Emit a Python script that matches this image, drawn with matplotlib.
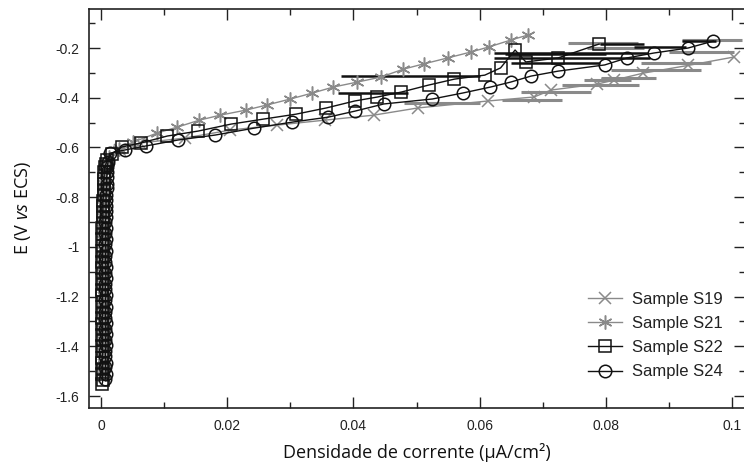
import matplotlib
matplotlib.use("Agg")
import matplotlib.pyplot as plt
from matplotlib.ticker import MultipleLocator, FixedFormatter, FixedLocator

plt.rcParams['mathtext.fontset'] = 'custom'
plt.rcParams['mathtext.rm'] = 'Open Sans'
plt.rcParams['mathtext.it'] = 'Open Sans:italic'

# ---------------- data ----------------
# cathodic (vertical) branches: potentials and currents near zero
S19_E_cat = [-1.52, -1.50, -1.475, -1.455, -1.43, -1.41, -1.385, -1.365, -1.34, -1.32,
             -1.295, -1.275, -1.25, -1.23, -1.205, -1.185, -1.16, -1.14, -1.115, -1.095,
             -1.07, -1.05, -1.025, -1.005, -0.98, -0.96, -0.935, -0.915, -0.89, -0.87,
             -0.845, -0.825, -0.80, -0.78, -0.755, -0.735, -0.71, -0.69, -0.67]
S19_i_cat = [0.0004, 0.0003, 0.0004, 0.0003, 0.0004, 0.0003, 0.0004, 0.0004, 0.0003, 0.0004,
             0.0003, 0.0004, 0.0004, 0.0003, 0.0004, 0.0003, 0.0004, 0.0004, 0.0003, 0.0004,
             0.0004, 0.0003, 0.0004, 0.0004, 0.0003, 0.0004, 0.0004, 0.0003, 0.0004, 0.0004,
             0.0004, 0.0005, 0.0004, 0.0005, 0.0005, 0.0006, 0.0006, 0.0007, 0.0009]

S21_E_cat = [-1.51, -1.49, -1.465, -1.445, -1.42, -1.40, -1.375, -1.355, -1.33, -1.31,
             -1.285, -1.265, -1.24, -1.22, -1.195, -1.175, -1.15, -1.13, -1.105, -1.085,
             -1.06, -1.04, -1.015, -0.995, -0.97, -0.95, -0.925, -0.905, -0.88, -0.86,
             -0.835, -0.815, -0.79, -0.77, -0.745, -0.725, -0.70, -0.68, -0.66]
S21_i_cat = [0.0006, 0.0005, 0.0006, 0.0005, 0.0006, 0.0005, 0.0006, 0.0006, 0.0005, 0.0006,
             0.0005, 0.0006, 0.0006, 0.0005, 0.0006, 0.0005, 0.0006, 0.0006, 0.0005, 0.0006,
             0.0006, 0.0005, 0.0006, 0.0006, 0.0005, 0.0006, 0.0006, 0.0005, 0.0006, 0.0006,
             0.0006, 0.0006, 0.0007, 0.0007, 0.0007, 0.0008, 0.0008, 0.0009, 0.0011]

S22_E_cat = [-1.55, -1.535, -1.51, -1.49, -1.465, -1.445, -1.42, -1.40, -1.375, -1.355,
             -1.33, -1.31, -1.285, -1.265, -1.24, -1.22, -1.195, -1.175, -1.15, -1.13,
             -1.105, -1.085, -1.06, -1.04, -1.015, -0.995, -0.97, -0.95, -0.925, -0.905,
             -0.88, -0.86, -0.835, -0.815, -0.79, -0.77, -0.745, -0.725, -0.70, -0.68, -0.665]
S22_i_cat = [0.0002, 0.0003, 0.0002, 0.0003, 0.0002, 0.0002, 0.0003, 0.0002, 0.0003, 0.0002,
             0.0003, 0.0002, 0.0002, 0.0003, 0.0002, 0.0003, 0.0002, 0.0002, 0.0003, 0.0002,
             0.0003, 0.0002, 0.0002, 0.0003, 0.0002, 0.0003, 0.0002, 0.0003, 0.0002, 0.0003,
             0.0003, 0.0003, 0.0003, 0.0003, 0.0004, 0.0004, 0.0004, 0.0005, 0.0005, 0.0006, 0.0008]

S24_E_cat = [-1.53, -1.51, -1.485, -1.465, -1.44, -1.42, -1.395, -1.375, -1.35, -1.33,
             -1.305, -1.285, -1.26, -1.24, -1.215, -1.195, -1.17, -1.15, -1.125, -1.105,
             -1.08, -1.06, -1.035, -1.015, -0.99, -0.97, -0.945, -0.925, -0.90, -0.88,
             -0.855, -0.835, -0.81, -0.79, -0.765, -0.745, -0.72, -0.70, -0.68, -0.66]
S24_i_cat = [0.0007, 0.0008, 0.0007, 0.0008, 0.0007, 0.0007, 0.0008, 0.0007, 0.0008, 0.0007,
             0.0008, 0.0007, 0.0007, 0.0008, 0.0007, 0.0008, 0.0007, 0.0007, 0.0008, 0.0007,
             0.0008, 0.0007, 0.0007, 0.0008, 0.0007, 0.0008, 0.0007, 0.0008, 0.0007, 0.0008,
             0.0008, 0.0008, 0.0008, 0.0008, 0.0009, 0.0009, 0.0009, 0.0010, 0.0010, 0.0011]

# anodic branches
S19_i_an = [0.0012, 0.0030, 0.0062, 0.0133, 0.0205, 0.0279, 0.0355, 0.0432, 0.0502,
            0.0613, 0.0686, 0.0713, 0.0786, 0.0813, 0.0859, 0.0930, 0.1003]
S19_E_an = [-0.645, -0.610, -0.582, -0.562, -0.530, -0.510, -0.490, -0.470, -0.441,
            -0.413, -0.397, -0.369, -0.345, -0.329, -0.301, -0.270, -0.236]

S21_i_an = [0.0013, 0.0028, 0.0051, 0.0089, 0.0121, 0.0156, 0.0189, 0.0229, 0.0263,
            0.0300, 0.0335, 0.0368, 0.0406, 0.0443, 0.0479, 0.0511, 0.0549, 0.0586,
            0.0614, 0.0649, 0.0676]
S21_E_an = [-0.640, -0.605, -0.578, -0.542, -0.518, -0.490, -0.470, -0.450, -0.429,
            -0.405, -0.381, -0.357, -0.337, -0.317, -0.285, -0.264, -0.240, -0.216,
            -0.196, -0.168, -0.148]

S22_i_an = [0.0010, 0.0017, 0.0033, 0.0063, 0.0105, 0.0154, 0.0206, 0.0257, 0.0309,
            0.0357, 0.0402, 0.0438, 0.0476, 0.0519, 0.0560, 0.0608, 0.0633, 0.0656,
            0.0673, 0.0724, 0.0789]
S22_E_an = [-0.650, -0.625, -0.598, -0.582, -0.554, -0.534, -0.506, -0.486, -0.466,
            -0.441, -0.413, -0.397, -0.377, -0.349, -0.325, -0.309, -0.280, -0.208,
            -0.256, -0.240, -0.184]

S24_i_an = [0.0014, 0.0038, 0.0071, 0.0122, 0.0181, 0.0243, 0.0303, 0.0360, 0.0402,
            0.0448, 0.0525, 0.0573, 0.0617, 0.0649, 0.0681, 0.0724, 0.0798, 0.0833,
            0.0876, 0.0930, 0.0970]
S24_E_an = [-0.623, -0.610, -0.594, -0.570, -0.550, -0.522, -0.498, -0.478, -0.454,
            -0.425, -0.405, -0.381, -0.357, -0.337, -0.313, -0.293, -0.268, -0.240,
            -0.220, -0.200, -0.172]

# noisy horizontal excursions at high current (E, i_start, i_end)
dark_noise_E = [-0.313, -0.381, -0.218, -0.224, -0.240, -0.260, -0.184, -0.196, -0.172]
dark_noise_i0 = [0.0380, 0.0376, 0.0622, 0.0640, 0.0622, 0.0650, 0.0790, 0.0844, 0.0920]
dark_noise_i1 = [0.0600, 0.0486, 0.0867, 0.0800, 0.0870, 0.0790, 0.0860, 0.0927, 0.0975]

gray_noise_E = [-0.421, -0.329, -0.349, -0.377, -0.409, -0.180, -0.216, -0.260, -0.289,
                -0.320, -0.168, -0.200]
gray_noise_i0 = [0.0480, 0.0765, 0.0730, 0.0665, 0.0635, 0.0740, 0.0900, 0.0855, 0.0808,
                 0.0792, 0.0920, 0.0770]
gray_noise_i1 = [0.0600, 0.0840, 0.0853, 0.0776, 0.0730, 0.0850, 0.1003, 0.0967, 0.0950,
                 0.0880, 0.1015, 0.0860]

labels = ['Sample S19', 'Sample S21', 'Sample S22', 'Sample S24']

x_ticks = [0, 0.02, 0.04, 0.06, 0.08, 0.1]
x_ticklabels = ['0', '0.02', '0.04', '0.06', '0.08', '0.1']
y_ticks = [-1.6, -1.4, -1.2, -1, -0.8, -0.6, -0.4, -0.2]
y_ticklabels = ['-1.6', '-1.4', '-1.2', '-1', '-0.8', '-0.6', '-0.4', '-0.2']

# ---------------- figure ----------------
GRAY = '#8a8a8a'
DARK = '#111111'

fig = plt.figure(figsize=(7.44, 4.66), dpi=100)
ax = fig.add_axes([89 / 744, 1 - 408 / 466, (744 - 89) / 744 + 0.002, (408 - 9) / 466])

series = [
    (S19_i_cat + S19_i_an, S19_E_cat + S19_E_an, GRAY, 'x', 9, labels[0]),
    (S21_i_cat + S21_i_an, S21_E_cat + S21_E_an, GRAY, (6, 2, 0), 10, labels[1]),
    (S22_i_cat + S22_i_an, S22_E_cat + S22_E_an, DARK, 's', 9, labels[2]),
    (S24_i_cat + S24_i_an, S24_E_cat + S24_E_an, DARK, 'o', 9, labels[3]),
]

ax.hlines(gray_noise_E, gray_noise_i0, gray_noise_i1, colors=GRAY, linewidth=2.2, zorder=1)
ax.hlines(dark_noise_E, dark_noise_i0, dark_noise_i1, colors=DARK, linewidth=1.8, zorder=1.5)

handles = []
for xs, ys, col, mk, ms, lab in series:
    h, = ax.plot(xs, ys, color=col, linewidth=1.0, marker=mk, markersize=ms,
                 markerfacecolor='none', markeredgecolor=col, markeredgewidth=1.1,
                 label=lab, zorder=2)
    handles.append(h)

ax.set_xlim(-0.0019, 0.1021)
ax.set_ylim(-1.648, -0.043)

ax.xaxis.set_major_locator(FixedLocator(x_ticks))
ax.xaxis.set_major_formatter(FixedFormatter(x_ticklabels))
ax.yaxis.set_major_locator(FixedLocator(y_ticks))
ax.yaxis.set_major_formatter(FixedFormatter(y_ticklabels))
ax.xaxis.set_minor_locator(MultipleLocator(0.01))
ax.yaxis.set_minor_locator(MultipleLocator(0.1))

ax.tick_params(which='both', direction='in', top=True, right=True, color='#222222',
               labelcolor='#222222', labelsize=10, width=1.0)
ax.tick_params(which='major', length=8)
ax.tick_params(which='minor', length=4)
ax.tick_params(axis='x', pad=8)
ax.tick_params(axis='y', pad=7)
for lbl in ax.get_xticklabels() + ax.get_yticklabels():
    lbl.set_family('Liberation Sans')

for sp in ax.spines.values():
    sp.set_linewidth(1.2)
    sp.set_color('#222222')

ax.set_xlabel('Densidade de corrente (µA/cm²)', family='Open Sans', fontsize=13,
              color='#111111', labelpad=7)
ax.set_ylabel('E (V $\\mathit{vs}$ ECS)', family='Open Sans', fontsize=13,
              color='#111111', labelpad=16)

leg = ax.legend(handles=handles, loc='lower right', bbox_to_anchor=(0.975, 0.055),
                frameon=False, prop={'family': 'Liberation Sans', 'size': 12},
                handlelength=2.0, handletextpad=0.6, labelspacing=0.55, borderaxespad=0)
for t in leg.get_texts():
    t.set_color('#222222')

fig.savefig('out.png', dpi=100)
